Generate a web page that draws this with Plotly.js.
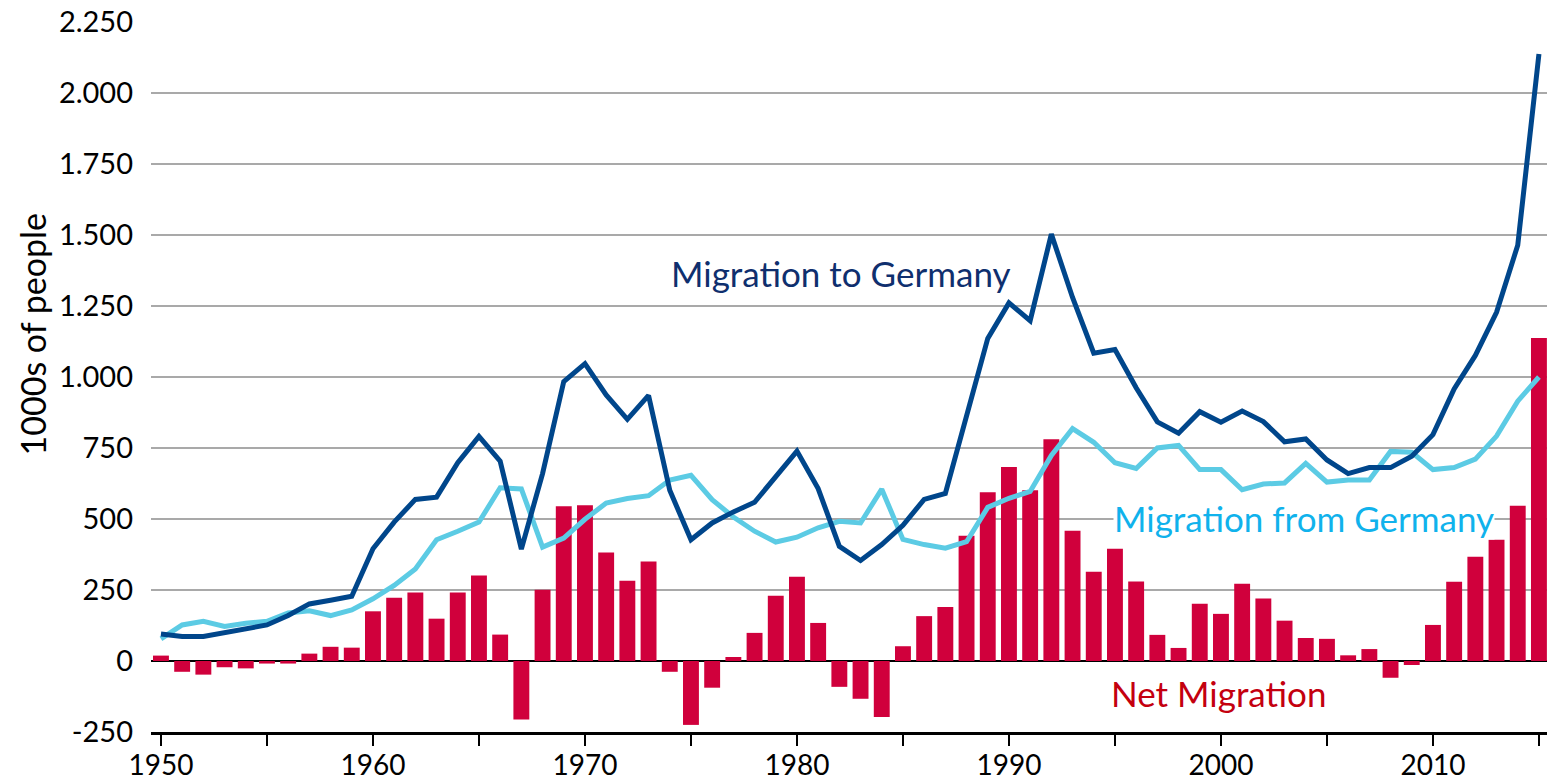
<!DOCTYPE html>
<html>
<head>
<meta charset="utf-8">
<script src="https://cdn.plot.ly/plotly-3.0.1.min.js"></script>
<style>
  html, body { margin: 0; padding: 0; background: #fff; }
  #chart { width: 1547px; height: 782px; }
</style>
</head>
<body>
<div id="chart"></div>
<script>
const years = [];
for (let y = 1950; y <= 2015; y++) years.push(y);

const migrationTo = [
  95, 86, 86, 99, 112, 127, 160, 201, 214, 228,
  395, 489, 569, 577, 698, 791, 704, 394, 660, 984,
  1047, 937, 851, 935, 601, 427, 486, 525, 559, 651,
  739, 607, 404, 354, 410, 478, 569, 590, 855, 1136,
  1261, 1198, 1503, 1280, 1084, 1097, 962, 842, 802, 878,
  841, 880, 843, 772, 782, 708, 660, 681, 681, 721,
  797, 958, 1076, 1228, 1464, 2137
];

const migrationFrom = [
  78, 127, 140, 122, 133, 140, 169, 177, 160, 180,
  219, 266, 324, 427, 457, 489, 610, 606, 401, 433,
  499, 556, 572, 582, 637, 654, 568, 507, 457, 419,
  436, 469, 492, 486, 605, 428, 410, 397, 420, 541,
  573, 597, 724, 818, 770, 698, 678, 750, 759, 674,
  674, 603, 623, 627, 696, 630, 637, 637, 738, 735,
  674, 681, 711, 792, 915, 1000
];

const netMigration = [
  19, -38, -48, -22, -26, -9, -9, 26, 50, 47,
  175, 223, 241, 149, 241, 301, 93, -206, 251, 545,
  548, 382, 283, 350, -38, -225, -94, 14, 99, 230,
  297, 134, -91, -133, -197, 52, 158, 190, 441, 594,
  683, 601, 781, 459, 314, 395, 280, 92, 46, 202,
  166, 272, 220, 142, 81, 78, 20, 42, -59, -14,
  127, 279, 367, 427, 547, 1137
];

const yTickVals = [-250, 0, 250, 500, 750, 1000, 1250, 1500, 1750, 2000, 2250];
const yTickText = ["-250", "0", "250", "500", "750", "1.000", "1.250", "1.500", "1.750", "2.000", "2.250"];

const labelTo = "Migration to Germany";
const labelFrom = "Migration from Germany";
const labelNet = "Net Migration";
const yTitle = "1000s of people";

const FONT = "Lato, 'Open Sans', sans-serif";

const traces = [
  {
    type: "bar", x: years, y: netMigration, name: labelNet,
    marker: { color: "#d0003c" }, width: 0.75, hoverinfo: "x+y"
  },
  {
    type: "scatter", mode: "lines", x: years, y: migrationFrom, name: labelFrom,
    line: { color: "#5ccbe4", width: 5 }
  },
  {
    type: "scatter", mode: "lines", x: years, y: migrationTo, name: labelTo,
    line: { color: "#00468b", width: 5 }
  }
];

const layout = {
  width: 1547, height: 782,
  margin: { l: 151, r: 0, t: 22, b: 50 },
  paper_bgcolor: "#ffffff", plot_bgcolor: "#ffffff",
  showlegend: false,
  font: { family: FONT, size: 28, color: "#000" },
  xaxis: {
    range: [1949.53, 2015.38],
    tickmode: "linear", tick0: 1950, dtick: 10,
    ticks: "outside", ticklen: 11, tickwidth: 2.5, tickcolor: "#000",
    minor: { tickmode: "linear", tick0: 1950, dtick: 5, ticks: "outside", ticklen: 11, tickwidth: 2.5, tickcolor: "#000", showgrid: false },
    showline: true, linecolor: "#000", linewidth: 2.5,
    showgrid: false, zeroline: false,
    tickfont: { family: FONT, size: 28, color: "#000" },
    ticklabelstandoff: -4
  },
  yaxis: {
    range: [-250, 2250],
    tickmode: "array", tickvals: yTickVals, ticktext: yTickText,
    showgrid: true, gridcolor: "#a9a9a9", gridwidth: 1.5,
    zeroline: true, zerolinecolor: "#000", zerolinewidth: 2.5,
    showline: false, ticks: "",
    tickfont: { family: FONT, size: 29, color: "#000" },
    ticklabelstandoff: 17
  },
  bargap: 0.25,
  annotations: [
    {
      xref: "paper", yref: "paper", x: -0.0852, y: 0.56, xanchor: "center", yanchor: "middle",
      text: yTitle, showarrow: false,
      textangle: -90, font: { family: FONT, size: 34, color: "#000" }
    },
    {
      xref: "x", yref: "y", x: 1982.1, y: 1367, text: labelTo, showarrow: false,
      font: { family: FONT, size: 35, color: "#0f2f6e" }
    },
    {
      xref: "x", yref: "y", x: 2003.9, y: 505, text: labelFrom, showarrow: false,
      bgcolor: "#ffffff", borderpad: 0,
      font: { family: FONT, size: 35, color: "#10b2ec" }
    },
    {
      xref: "x", yref: "y", x: 1999.9, y: -112, text: labelNet, showarrow: false,
      font: { family: FONT, size: 35, color: "#c4000f" }
    }
  ]
};

Plotly.newPlot("chart", traces, layout, { displayModeBar: false, staticPlot: true });
</script>
</body>
</html>
